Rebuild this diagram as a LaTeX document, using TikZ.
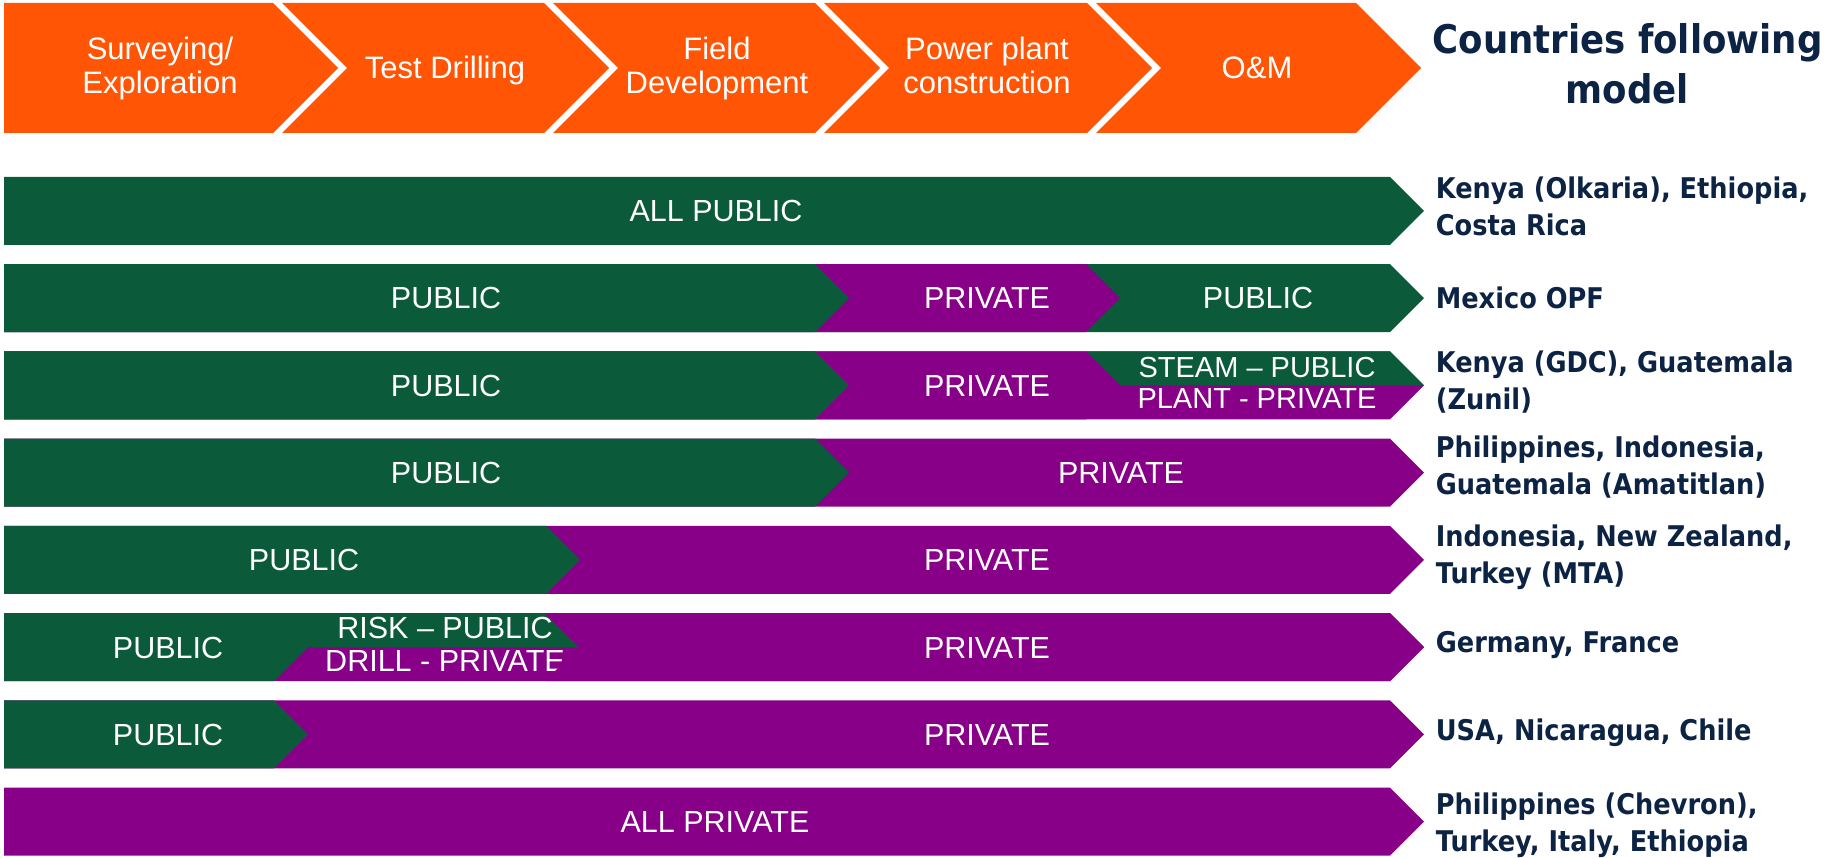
\documentclass[tikz,border=0pt]{standalone}
\usepackage{fontspec}
\setmainfont{Liberation Sans}
\newfontfamily\cfont{DejaVu Sans}[FakeStretch=0.9]
\definecolor{org}{HTML}{FF5505}
\definecolor{grn}{HTML}{0B5B3A}
\definecolor{pur}{HTML}{880088}
\definecolor{navy}{HTML}{0C2344}
\newcommand\fullarrow[2]{\fill[#1] (4,#2) -- (1390,#2) -- (1424,{#2+34}) -- (1390,{#2+68}) -- (4,{#2+68}) -- cycle;}
\newcommand\pent[3]{\fill[#1] (4,#3) -- (#2,#3) -- ({#2+34},{#3+34}) -- (#2,{#3+68}) -- (4,{#3+68}) -- cycle;}
\newcommand\chev[2]{\fill[org] (#1,3) -- (#2,3) -- ({#2+65},68) -- (#2,133) -- (#1,133) -- ({#1+65},68) -- cycle;}
\begin{document}
\begin{tikzpicture}[x=1pt,y=-1pt,
  stage/.style={text=white, font=\fontsize{31}{33.3}\selectfont, align=center, inner sep=0, anchor=base},
  lbl/.style={text=white, font=\fontsize{30.5}{33}\selectfont, inner sep=0, anchor=base},
  splitlbl/.style={text=white, inner sep=0, anchor=base},
  ctry/.style={text=navy, font=\cfont\bfseries\fontsize{28.5}{37}\selectfont, align=left, anchor=base west, inner sep=0},
  head/.style={text=navy, font=\cfont\bfseries\fontsize{39.5}{50}\selectfont, align=center, anchor=base, inner sep=0}]
\useasboundingbox (0,0) rectangle (1825,858);
% top stages
\fill[org] (4,3) -- (273,3) -- (338,68) -- (273,133) -- (4,133) -- cycle;
\chev{282}{544}
\chev{553}{815}
\chev{824}{1087}
\chev{1096}{1356}
\node[stage] (s1) at (160,93.3) {Surveying/\\Exploration};
\node[stage] (s2) at (445,78.3) {Test Drilling};
\node[stage] (s3) at (717,93.3) {Field\\Development};
\node[stage] (s4) at (987,93.3) {Power plant\\construction};
\node[stage] (s5) at (1257,78.3) {O\&M};
\node[head] (hd) at (1627.5,103.3) {Countries following\\model};
% row 1
\fullarrow{grn}{176.8}
\node[lbl] (r1a) at (716,221.7) {ALL PUBLIC};
% row 2
\fullarrow{grn}{264.05}
\pent{pur}{1086}{264.05}
\pent{grn}{815}{264.05}
\node[lbl] (r2a) at (446,309) {PUBLIC};
\node[lbl] (r2b) at (987,309) {PRIVATE};
\node[lbl] (r2c) at (1258,309) {PUBLIC};
% row 3
\fullarrow{pur}{351.3}
\fill[grn] (1086,351.3) -- (1390,351.3) -- (1424,385.3) -- (1120,385.3) -- cycle;
\pent{pur}{1086}{351.3}
\pent{grn}{815}{351.3}
\node[lbl] (r3a) at (446,396.2) {PUBLIC};
\node[lbl] (r3b) at (987,396.2) {PRIVATE};
\node[splitlbl, font=\fontsize{29}{30}\selectfont] (r3c) at (1257,377.5) {STEAM – PUBLIC};
\node[splitlbl, font=\fontsize{29}{30}\selectfont] (r3d) at (1257,408) {PLANT - PRIVATE};
% row 4
\fullarrow{pur}{438.55}
\pent{grn}{815}{438.55}
\node[lbl] (r4a) at (446,483.5) {PUBLIC};
\node[lbl] (r4b) at (1121,483.5) {PRIVATE};
% row 5
\fullarrow{pur}{525.8}
\pent{grn}{546}{525.8}
\node[lbl] (r5a) at (304,570.7) {PUBLIC};
\node[lbl] (r5b) at (987,570.7) {PRIVATE};
% row 6
\fullarrow{pur}{613.05}
\fill[grn] (4,613.05) -- (545,613.05) -- (579,647.05) -- (4,647.05) -- cycle;
\pent{grn}{274}{613.05}
\node[lbl] (r6a) at (168,658) {PUBLIC};
\node[splitlbl, font=\fontsize{30.5}{32}\selectfont] (r6c) at (445,638) {RISK – PUBLIC};
\node[splitlbl, font=\fontsize{30.5}{32}\selectfont] (r6d) at (445,671.7) {DRILL - PRIVATE};
\fill[pur] (545,613.05) -- (1390,613.05) -- (1424,647.05) -- (1390,681.05) -- (545,681.05) -- (579,647.05) -- cycle;
\node[lbl] (r6b) at (987,658) {PRIVATE};
% row 7
\fullarrow{pur}{700.3}
\pent{grn}{274}{700.3}
\node[lbl] (r7a) at (168,745.2) {PUBLIC};
\node[lbl] (r7b) at (987,745.2) {PRIVATE};
% row 8
\fullarrow{pur}{787.55}
\node[lbl] (r8a) at (715,832.5) {ALL PRIVATE};
% countries
\node[ctry] (c1) at (1435.6,235.4) {Kenya (Olkaria), Ethiopia,\\Costa Rica};
\node[ctry] (c2) at (1435.6,309) {Mexico OPF};
\node[ctry] (c3) at (1435.6,409.5) {Kenya (GDC), Guatemala\\(Zunil)};
\node[ctry] (c4) at (1435.6,494.8) {Philippines, Indonesia,\\Guatemala (Amatitlan)};
\node[ctry] (c5) at (1435.6,583.7) {Indonesia, New Zealand,\\Turkey (MTA)};
\node[ctry] (c6) at (1435.6,652.3) {Germany, France};
\node[ctry] (c7) at (1435.6,740.4) {USA, Nicaragua, Chile};
\node[ctry] (c8) at (1435.6,851.5) {Philippines (Chevron),\\Turkey, Italy, Ethiopia};
\end{tikzpicture}
\end{document}
